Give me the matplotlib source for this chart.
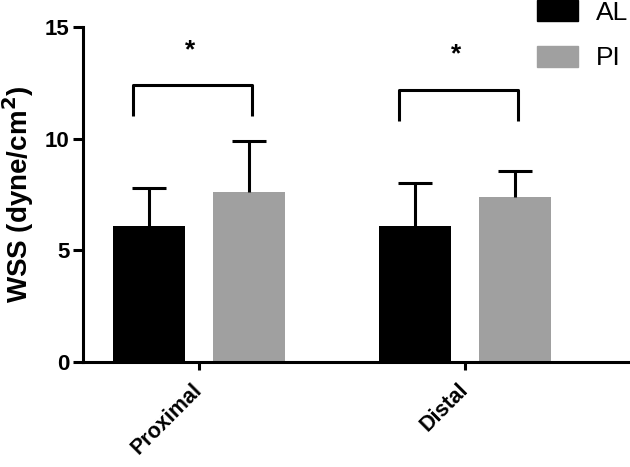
import matplotlib
matplotlib.use("Agg")
import matplotlib.pyplot as plt
import matplotlib.patches as mpatches
import matplotlib.transforms as mtransforms
import numpy as np

plt.rcParams['font.family'] = ['Liberation Sans', 'DejaVu Sans']
plt.rcParams['font.weight'] = 'bold'

# data
groups = ["Proximal", "Distal"]
series = ["AL", "PI"]
al_mean = [6.1, 6.1]
al_sd = [1.7, 1.9]
pi_mean = [7.6, 7.4]
pi_sd = [2.3, 1.15]
bracket_top = [12.4, 12.2]
bracket_low = [11.0, 10.8]
colors = ['#000000', '#a0a0a0']

fig = plt.figure(figsize=(6.30, 4.67), dpi=100)
ax = fig.add_axes([0.132, 0.225, 0.868, 0.717])

x = np.arange(len(groups))
off = 0.188
width = 0.271
lw = 2.2

for i, (means, sds, c) in enumerate(zip([al_mean, pi_mean], [al_sd, pi_sd], colors)):
    xs = x + (2 * i - 1) * off
    ax.bar(xs, means, width=width, color=c, zorder=2)
    eb = ax.errorbar(xs, means, yerr=[np.zeros(len(sds)), sds], fmt='none',
                     ecolor='black', elinewidth=lw, capsize=12, capthick=lw, zorder=3)
    # only the upper cap is shown
    eb[1][0].set_visible(False)

# significance brackets
for gi in range(len(groups)):
    x0 = x[gi] - off - 0.06
    x1 = x[gi] + off + 0.01
    ax.plot([x0, x0, x1, x1], [bracket_low[gi], bracket_top[gi], bracket_top[gi], bracket_low[gi]],
            color='black', lw=lw, solid_capstyle='butt', zorder=3)
    ax.text((x0 + x1) / 2 - 0.01, bracket_top[gi] + 1.25, "*", ha='center', va='baseline',
            fontsize=19, fontweight='bold')

ax.set_xlim(-0.436, 1.62)
ax.set_ylim(0, 15)
ax.set_yticks([0, 5, 10, 15])
ax.set_xticks(x)
ax.set_xticklabels(groups, rotation=45, ha='right', va='center', rotation_mode='anchor',
                   fontsize=15.5, fontweight='bold')
shift = mtransforms.ScaledTranslation(-8 / 100, 0, fig.dpi_scale_trans)
for lab in ax.get_xticklabels():
    lab.set_transform(lab.get_transform() + shift)
ax.tick_params(axis='y', labelsize=16, width=lw, length=7, pad=3)
ax.tick_params(axis='x', width=lw, length=6, pad=12)
for lab in ax.get_yticklabels():
    lab.set_fontweight('bold')
ax.set_ylabel("WSS (dyne/cm$^\\mathbf{2}$)", fontsize=20, fontweight='bold', labelpad=6)

ax.spines['top'].set_visible(False)
ax.spines['right'].set_visible(False)
ax.spines['left'].set_linewidth(lw)
ax.spines['bottom'].set_linewidth(lw)

handles = [mpatches.Patch(color=c) for c in colors]
fig.legend(handles, series, loc='upper left', bbox_to_anchor=(0.853, 1.0), frameon=False,
           handlelength=1.55, handleheight=0.85, handletextpad=0.68,
           labelspacing=0.8, borderpad=0.0, borderaxespad=0.0,
           prop={'size': 19, 'weight': 'normal'})

fig.savefig("out.png", dpi=100)
